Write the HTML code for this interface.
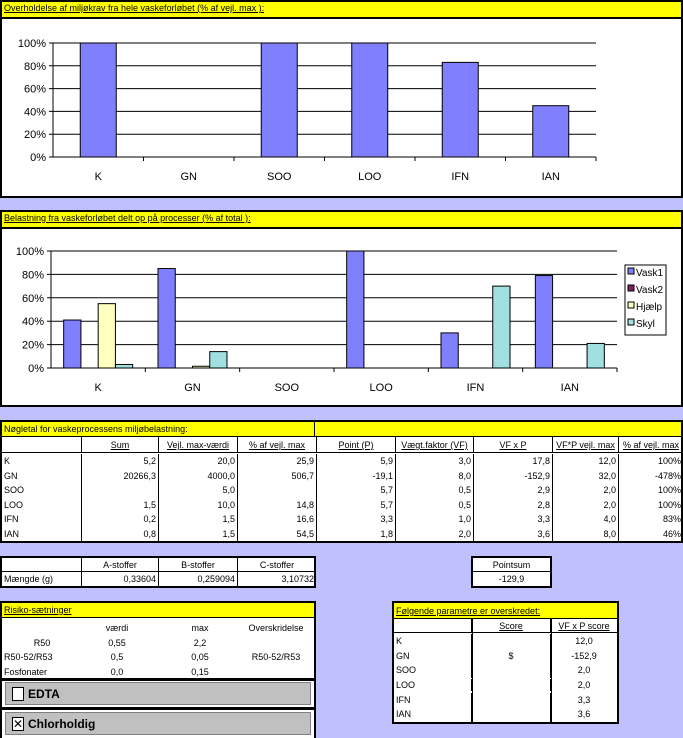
<!DOCTYPE html>
<html><head><meta charset="utf-8">
<style>
body{margin:0;width:683px;height:738px;background:#c0c0ff;position:relative;overflow:hidden;font-family:"Liberation Sans",sans-serif;font-size:9px;color:#000}
.abs{position:absolute;box-sizing:border-box}
.title{background:#ffff00;border-bottom:2px solid #000;padding-left:2px;line-height:13px;font-size:9px;text-decoration:underline}
.c{position:absolute;line-height:14px;white-space:nowrap;font-size:9px}
</style></head><body>
<!-- Chart 1 -->
<div class="abs" style="left:0;top:0;width:683px;height:198px;background:#fff;border:2px solid #000;">
 <div class="title" style="height:15px;">Overholdelse af miljøkrav fra hele vaskeforløbet (% af vejl. max ):</div>
</div>
<svg class="abs" id="chart1" style="left:0;top:0" width="683" height="198"></svg>
<!-- Chart 2 -->
<div class="abs" style="left:0;top:210px;width:683px;height:197px;background:#fff;border:2px solid #000;">
 <div class="title" style="height:15px;">Belastning fra vaskeforløbet delt op på processer (% af total ):</div>
</div>
<svg class="abs" id="chart2" style="left:0;top:0" width="683" height="410"></svg>
<!-- Key figures table -->
<div class="abs" id="tbl1" style="left:0;top:420px;width:683px;height:123px;background:#fff;border:2px solid #000;"></div>
<div class="abs" id="tbl2" style="left:0;top:556px;width:316px;height:32px;background:#fff;border:2px solid #000;"></div>
<div class="abs" id="tbl3" style="left:471px;top:556px;width:81px;height:32px;background:#fff;border:2px solid #000;"></div>
<div class="abs" id="tbl4" style="left:0;top:601px;width:316px;height:137px;background:#fff;border:2px solid #000;border-bottom:none"></div>
<div class="abs" id="tbl5" style="left:392px;top:601px;width:227px;height:123px;background:#fff;border:2px solid #000;"></div>
<script>
const cats=["K","GN","SOO","LOO","IFN","IAN"];
const compliance=[100,0,100,100,83,45];
const yTicks=["0%","20%","40%","60%","80%","100%"];
const series=["Vask1","Vask2","Hjælp","Skyl"];
const vask1=[41,85,0,100,30,79];
const vask2=[0,0,0,0,0,0];
const hjaelp=[55,1.5,0,0,0,0];
const skyl=[3,0.0+14,0,0,70,21];
const colors=["#8080ff","#802060","#ffffc0","#a0e0e0"];
const NS="http://www.w3.org/2000/svg";
function mk(svg,tag,attrs){const e=document.createElementNS(NS,tag);for(const k in attrs)e.setAttribute(k,attrs[k]);svg.appendChild(e);return e;}
function drawChart(svg,L,R,T,B,vals,groupW,barW,name){
 const cw=(R-L)/cats.length;
 const y=v=>B-(v/100)*(B-T);
 yTicks.forEach((t,i)=>{const v=i*20;
  const g=mk(svg,"line",{x1:L-4,x2:R,y1:y(v),y2:y(v),stroke:"#000","stroke-width":1});
  
  
  const tx=mk(svg,"text",{x:L-7,y:y(v)+4,"text-anchor":"end","font-size":"11","font-family":"Liberation Sans, sans-serif"});
  tx.textContent=t;
  
  
 });
 const ax=mk(svg,"line",{x1:L,x2:L,y1:T,y2:B,stroke:"#000"});
 
 
 cats.forEach((c,i)=>{
  const tk=mk(svg,"line",{x1:L+cw*(i+1),x2:L+cw*(i+1),y1:B,y2:B+4,stroke:"#000"});
  
  
  const tx=mk(svg,"text",{x:L+cw*(i+0.5),y:B+23,"text-anchor":"middle","font-size":"11","font-family":"Liberation Sans, sans-serif"});
  tx.textContent=c;
  
  
  const g0=L+cw*i+(cw-groupW)/2;
  vals.forEach((arr,s)=>{const v=arr[i];if(v<=0)return;
   const r=mk(svg,"rect",{x:g0+s*barW,y:y(v),width:barW,height:B-y(v),fill:colors[s],stroke:"#000","stroke-width":1});
   
   
  });
 });
}
drawChart(document.getElementById('chart1'),53,596,43,157,[compliance],36,36,'compliance');
drawChart(document.getElementById('chart2'),51,617,251,368,[vask1,vask2,hjaelp,skyl],69,17.25,'process');
// legend
(function(){const svg=document.getElementById('chart2');
 const b=mk(svg,"rect",{x:625,y:265,width:41,height:70,fill:"#fff",stroke:"#000"});
 
 
 series.forEach((s,i)=>{const yy=272+i*17;
  const sw=mk(svg,"rect",{x:628,y:yy-4,width:6,height:6,fill:colors[i],stroke:"#000"});
  
  
  const t=mk(svg,"text",{x:636,y:yy+4,"font-size":"10","font-family":"Liberation Sans, sans-serif"});
  t.textContent=s;
  
  
 });})();
function cell(parent,txt,l,t,w,h,align,style){
 const d=document.createElement('div');
 d.className='c';
 d.textContent=txt;
 d.style.left=l+'px';d.style.top=t+'px';d.style.width=w+'px';d.style.height=h+'px';
 d.style.lineHeight=h+'px';d.style.textAlign=align||'left';
 d.style.boxSizing='border-box';d.style.padding='0 2px';
 if(style)Object.assign(d.style,style);
 
 
 parent.appendChild(d);return d;
}
// table1
const t1=document.getElementById('tbl1');
const cols1=[0,80,157,236,315,394,472,551,617,681];
const heads1=["","Sum","Vejl. max-værdi","% af vejl. max","Point (P)","Vægt.faktor (VF)","VF x P","VF*P vejl. max","% af vejl. max"];
const rows1=[["K","5,2","20,0","25,9","5,9","3,0","17,8","12,0","100%"],["GN","20266,3","4000,0","506,7","-19,1","8,0","-152,9","32,0","-478%"],["SOO","","5,0","","5,7","0,5","2,9","2,0","100%"],["LOO","1,5","10,0","14,8","5,7","0,5","2,8","2,0","100%"],["IFN","0,2","1,5","16,6","3,3","1,0","3,3","4,0","83%"],["IAN","0,8","1,5","54,5","1,8","2,0","3,6","8,0","46%"]];
cell(t1,"Nøgletal for vaskeprocessens miljøbelastning:",0,0,313,15,'left',{background:'#ff0',borderRight:'1px solid #000',borderBottom:'1px solid #000'});
cell(t1,"",313,0,366,15,'left',{background:'#ff0',borderBottom:'1px solid #000'});
for(let j=0;j<9;j++){cell(t1,heads1[j],cols1[j],15,cols1[j+1]-cols1[j],16,'center',{borderRight:j<8?'1px solid #000':'',borderBottom:'1px solid #000',textDecoration:'underline'});}
rows1.forEach((r,i)=>{for(let j=0;j<9;j++){cell(t1,r[j],cols1[j],32+i*14.5,cols1[j+1]-cols1[j],14.5,j?'right':'left',{borderRight:j<8?'1px solid #000':''});}});
// table2
const t2=document.getElementById('tbl2');
const cols2=[0,80,157,236,314];
const h2=["","A-stoffer","B-stoffer","C-stoffer"],r2=["Mængde (g)","0,33604","0,259094","3,10732"];
for(let j=0;j<4;j++){cell(t2,h2[j],cols2[j],0,cols2[j+1]-cols2[j],14,'center',{borderRight:j<3?'1px solid #000':'',borderBottom:'1px solid #000'});cell(t2,r2[j],cols2[j],14,cols2[j+1]-cols2[j],14,j?'right':'left',{borderRight:j<3?'1px solid #000':''});}
const t3=document.getElementById('tbl3');
cell(t3,"Pointsum",0,0,77,14,'center',{borderBottom:'1px solid #000'});
cell(t3,"-129,9",0,14,77,14,'center');
// risk
const t4=document.getElementById('tbl4');
cell(t4,"Risiko-sætninger",0,0,312,15,'left',{background:'#ff0',borderBottom:'1px solid #000',textDecoration:'underline'});
const rk=[["","værdi","max","Overskridelse"],["R50","0,55","2,2",""],["R50-52/R53","0,5","0,05","R50-52/R53"],["Fosfonater","0,0","0,15",""]];
const rx=[[0,80,'center'],[80,70,'center'],[160,76,'center'],[236,76,'center']];
rk.forEach((r,i)=>{r.forEach((v,j)=>{let al=rx[j][2];if(j==0&&i>1)al='left';cell(t4,v,rx[j][0],18+i*14.5,rx[j][1],14,al);});});
const sep=document.createElement('div');sep.className='abs';sep.style.cssText='left:0;top:75px;width:312px;height:3px;background:#000';


t4.appendChild(sep);
function cb(label,top,checked,nm){
 const d=document.createElement('div');d.className='abs';
 d.style.cssText='left:3px;top:'+top+'px;width:306px;height:23px;background:#c0c0c0;border:1px solid #808080;font-size:12px;font-weight:bold;line-height:23px;padding-left:22px';
 d.textContent=label;
 
 
 const b=document.createElement('div');b.className='abs';
 b.style.cssText='left:6px;top:4px;width:12px;height:14px;background:#fff;border:1px solid #000;font-size:12px;line-height:12px;text-align:center;font-weight:normal';
 b.textContent=checked?'✕':'';
 
 
 d.appendChild(b);t4.appendChild(d);
}
cb("EDTA",79,false,'edta-checkbox');
const sep2=document.createElement('div');sep2.className='abs';sep2.style.cssText='left:0;top:104px;width:312px;height:3px;background:#000';


t4.appendChild(sep2);
cb("Chlorholdig",109,true,'chlorholdig-checkbox');
// exceeded
const t5=document.getElementById('tbl5');
cell(t5,"Følgende parametre er overskredet:",0,0,223,16,'left',{background:'#ff0',borderBottom:'1px solid #000',textDecoration:'underline'});
const c5=[0,78,157,223];const h5=["","Score","VF x P score"];
for(let j=0;j<3;j++)cell(t5,h5[j],c5[j],16,c5[j+1]-c5[j],14,j?'center':'left',{borderRight:j<2?'1px solid #000':'',borderBottom:'1px solid #000',textDecoration:'underline'});
const r5=[["K","","12,0"],["GN","$","-152,9"],["SOO","","2,0"],["LOO","","2,0"],["IFN","","3,3"],["IAN","","3,6"]];
const ry5=[31,46,60,76,90,104];
r5.forEach((r,i)=>{for(let j=0;j<3;j++)cell(t5,r[j],c5[j],ry5[i],c5[j+1]-c5[j],i==3?12:14.5,j?'center':'left',{borderRight:j<2?'1px solid #000':''});});
// vertical lines full height for col borders
[78,157].forEach(x=>{const l=document.createElement('div');l.className='abs';l.style.cssText='left:'+x+'px;top:16px;width:1px;height:103px;background:#000';


t5.appendChild(l);});
</script>
</body></html>
